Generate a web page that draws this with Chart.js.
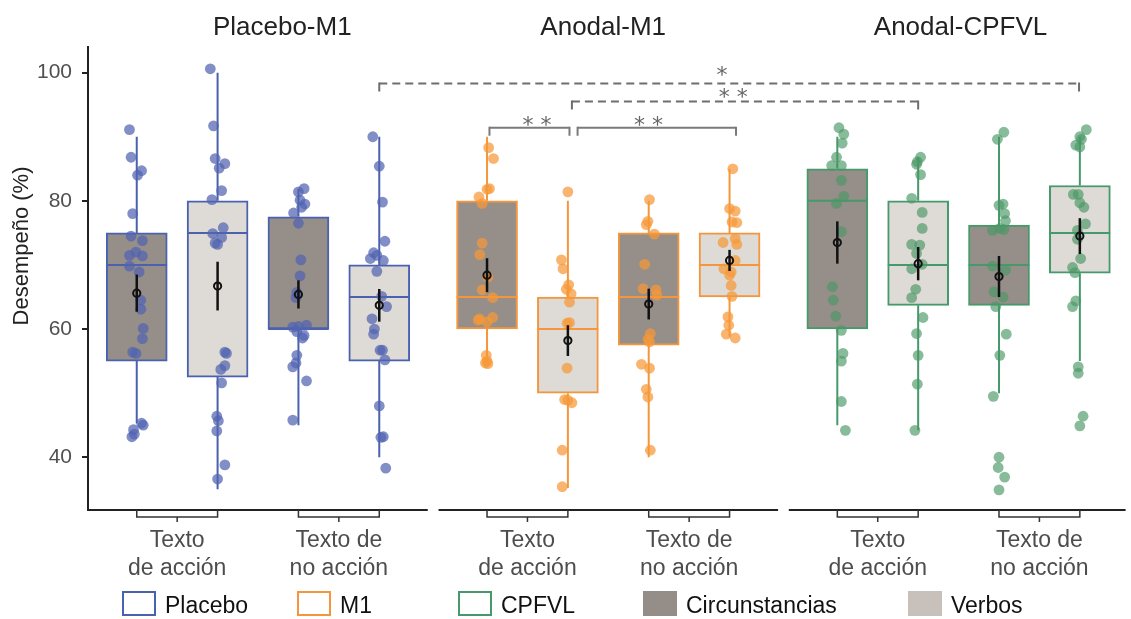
<!DOCTYPE html>
<html>
<head>
<meta charset="utf-8">
<script src="https://cdn.jsdelivr.net/npm/chart.js@4.4.1/dist/chart.umd.min.js"></script>
<style>
  html, body { margin: 0; padding: 0; background: #ffffff; }
  #wrap { width: 1131px; height: 619px; }
</style>
</head>
<body>
<div id="wrap"><canvas id="chart" width="1131" height="619"></canvas></div>
<script>
// ---- data -----------------------------------------------------------------
const panelTitles = ['Placebo-M1', 'Anodal-M1', 'Anodal-CPFVL'];
const textLabels = [['Texto', 'de acción'], ['Texto de', 'no acción']];
const stimulation = ['Placebo', 'M1', 'CPFVL'];
const wordClass = ['Circunstancias', 'Verbos'];
const yTickValues = [40, 60, 80, 100];

// one entry per box, panel by panel:
// [acción-circunstancias, acción-verbos, no acción-circunstancias, no acción-verbos]
const boxQ1       = [55, 52.5, 60, 55,     60, 50, 57.5, 65,     60, 63.7, 63.7, 68.7];
const boxMedian   = [70, 75, 60, 65,       65, 60, 65, 70,       80, 70, 70, 75];
const boxQ3       = [75, 80, 77.5, 70,     80, 65, 75, 75,       85, 80, 76.2, 82.4];
const whiskerLow  = [45.3, 35, 45, 40,     55, 35.2, 40, 58.8,   45, 44.2, 50, 55];
const whiskerHigh = [90, 100, 81.9, 90,    90, 80, 80, 85,       90, 86.8, 90, 90];
const meanScore   = [65.6, 66.7, 65.4, 63.7, 68.4, 58.2, 63.9, 70.7, 73.5, 70.2, 68.2, 74.5];
const meanError   = [2.9, 3.8, 2.2, 2.55,  2.65, 2.4, 2.4, 1.65,  3.3, 2.6, 3.2, 2.8];

// individual participant scores (%) for each box
const scores = [
  [91.1, 86.8, 84.0, 84.7, 78.0, 74.5, 73.8, 71.5, 72.0, 71.4, 69.8, 68.9, 64.5, 63.1, 60.1, 58.5, 56.4, 56.2, 45.3, 44.3, 45.0, 43.2, 43.6],
  [100.6, 91.7, 86.6, 85.1, 85.8, 81.6, 80.2, 74.9, 75.8, 74.3, 73.4, 73.2, 56.4, 56.2, 54.3, 53.7, 51.6, 46.4, 45.7, 44.1, 38.8, 36.6],
  [81.4, 81.9, 80.1, 79.5, 79.0, 78.1, 76.5, 70.8, 68.3, 64.9, 65.7, 60.3, 60.4, 60.6, 59.6, 59.0, 58.6, 55.9, 54.7, 54.1, 51.9, 45.8],
  [90.0, 85.4, 79.8, 73.7, 71.9, 71.5, 71.0, 70.7, 69.0, 65.1, 63.5, 61.6, 60.0, 59.2, 56.7, 56.7, 55.2, 48.0, 43.1, 43.2, 38.3],
  [88.3, 86.6, 81.9, 81.8, 80.6, 79.6, 73.4, 71.6, 68.1, 66.1, 64.9, 61.6, 61.8, 61.1, 61.4, 55.9, 55.0, 54.6, 54.7],
  [81.4, 70.8, 69.4, 66.9, 66.2, 65.5, 64.2, 60.9, 61.0, 53.9, 49.0, 48.9, 48.5, 41.1, 35.4],
  [80.2, 76.8, 76.3, 74.8, 70.1, 66.3, 66.1, 65.3, 59.3, 58.4, 58.0, 54.5, 53.9, 50.6, 49.4, 41.1],
  [85.0, 78.8, 78.4, 76.7, 76.6, 74.1, 73.5, 73.2, 70.7, 69.4, 68.9, 68.4, 66.8, 65.1, 61.9, 60.6, 59.2, 58.6],
  [91.4, 90.4, 89.0, 86.8, 85.5, 85.5, 83.2, 80.7, 79.6, 75.2, 66.6, 64.5, 62.0, 59.8, 56.2, 55.0, 48.7, 44.2],
  [86.8, 86.1, 85.7, 84.1, 80.4, 78.2, 75.7, 73.2, 73.1, 71.8, 70.1, 69.4, 66.2, 64.9, 61.8, 59.3, 55.9, 51.4, 44.2],
  [90.7, 89.6, 79.3, 79.5, 78.0, 76.9, 75.4, 75.7, 75.5, 69.8, 69.2, 65.8, 65.0, 63.5, 59.2, 55.9, 49.5, 40.0, 38.4, 36.9, 34.9],
  [91.1, 90.0, 89.6, 88.7, 88.4, 81.0, 81.0, 79.7, 79.0, 76.4, 75.4, 74.0, 71.0, 69.6, 68.8, 64.4, 63.5, 54.1, 53.1, 46.4, 44.9]
];

// horizontal jitter of each point, as a fraction of one box slot
const jitterX = [
  [-0.09, -0.07, 0.01, 0.06, -0.05, -0.07, 0.07, -0.09, -0.01, 0.07, -0.09, 0.03, 0.05, 0.05, 0.08, 0.07, -0.05, -0.01, 0.06, -0.04, 0.08, -0.06, -0.03],
  [-0.09, -0.05, -0.03, 0.02, 0.09, 0.05, -0.07, -0.06, 0.07, 0.05, -0.03, 0, 0.09, 0.11, 0.09, 0.04, 0.05, -0.01, 0.01, -0.01, 0.09, 0],
  [0, 0.07, 0.02, 0.08, 0.04, -0.06, 0, 0.03, 0.02, -0.03, -0.02, -0.07, 0, 0.1, -0.02, 0.07, 0.05, -0.02, -0.03, -0.07, 0.1, -0.07],
  [-0.08, 0, 0.04, 0.07, -0.07, -0.03, -0.11, 0.05, -0.03, 0.03, 0.09, -0.09, -0.06, -0.07, 0.01, 0.04, 0.07, 0, 0.02, 0.05, 0.08],
  [0.02, 0.08, 0.03, 0, -0.1, -0.06, -0.06, -0.09, 0.01, -0.06, 0.07, -0.09, 0.07, 0, -0.11, -0.01, 0, 0.01, -0.02],
  [0, -0.08, -0.06, 0.01, -0.02, 0.04, 0.02, -0.01, 0.02, -0.01, -0.04, 0, 0.05, -0.07, -0.07],
  [0.01, -0.01, -0.03, 0.07, -0.05, -0.07, 0.09, 0.1, 0.02, -0.01, 0.01, -0.09, 0.01, -0.03, -0.01, 0.02],
  [0.04, 0, 0.07, 0.03, 0.09, 0.07, -0.08, 0.09, 0.07, -0.07, 0.02, 0, 0.02, 0.03, -0.02, -0.01, -0.04, 0.07],
  [0.02, 0.08, 0.06, -0.01, -0.07, 0.05, 0.05, 0.08, -0.01, 0.05, -0.06, -0.05, -0.02, 0.05, 0.07, 0.05, 0.05, 0.1],
  [0.03, -0.01, -0.02, 0.03, -0.08, 0.05, 0.05, -0.08, 0.02, -0.02, 0.05, -0.08, -0.03, -0.08, 0.06, -0.02, 0, -0.01, -0.04],
  [0.06, -0.02, 0, 0.05, 0.07, 0.08, -0.08, 0.01, 0.06, -0.08, 0.08, -0.06, 0.05, -0.04, 0.09, 0.01, -0.07, 0, -0.01, 0.07, 0],
  [0.08, 0, 0.02, -0.05, 0, -0.08, -0.02, 0, 0.05, 0.07, -0.03, -0.03, 0.01, -0.09, -0.06, -0.05, -0.09, -0.02, -0.02, 0.04, 0]
];

// pairwise comparisons: box index at each end and the stars shown
const comparisonFrom  = [3, 5, 4, 5];
const comparisonTo    = [11, 9, 5, 7];
const comparisonStars = ['*', '* *', '* *', '* *'];

// ---- layout & style -------------------------------------------------------
const FONT = "'Liberation Sans', Arial, sans-serif";
const panelBase = [1, 5.333, 9.666];          // x of the first box in each panel
const boxWidthUnits = 0.75;
const boxPos = scores.map((_, i) => panelBase[Math.floor(i / 4)] + (i % 4));
const stimColor  = ['#4a62ae', '#f3963c', '#45996a'];
const pointColor = ['rgba(82,100,178,0.72)', 'rgba(246,152,56,0.72)', 'rgba(74,152,102,0.66)'];
const wordFill   = ['#968e89', '#dedad5'];
const wordLegendFill = ['#958d88', '#c7c0bb'];
const groupOf = i => Math.floor(i / 4);
const classOf = i => i % 2;

// comparison bracket geometry (data units / % levels)
const comparisonLevel  = [98.3, 95.5, 91.4, 91.4];
const comparisonNudge  = [[0, -0.01], [0.05, 0], [0.03, 0.02], [0.12, 0.08]];
const comparisonDashed = [true, true, false, false];
const comparisonTextX  = [8.24, 8.38, 5.95, 7.33];
const comparisonLift   = [14, 9, 8, 8];

const boxPlugin = {
  id: 'boxParts',
  beforeDatasetsDraw(chart) {
    const {ctx, scales: {x: xs, y: ys}} = chart;
    ctx.save();
    ctx.lineWidth = 2;
    boxPos.forEach((p, i) => {
      const x = xs.getPixelForValue(p);
      ctx.strokeStyle = stimColor[groupOf(i)];
      ctx.beginPath();
      ctx.moveTo(x, ys.getPixelForValue(whiskerLow[i]));
      ctx.lineTo(x, ys.getPixelForValue(boxQ1[i]));
      ctx.moveTo(x, ys.getPixelForValue(boxQ3[i]));
      ctx.lineTo(x, ys.getPixelForValue(whiskerHigh[i]));
      ctx.stroke();
    });
    ctx.restore();
  },
  afterDatasetDraw(chart, args) {
    if (args.index !== 0) return;
    const {ctx, scales: {x: xs, y: ys}} = chart;
    ctx.save();
    ctx.lineWidth = 2;
    boxPos.forEach((p, i) => {
      const x0 = xs.getPixelForValue(p - boxWidthUnits / 2);
      const x1 = xs.getPixelForValue(p + boxWidthUnits / 2);
      const y = ys.getPixelForValue(boxMedian[i]);
      ctx.strokeStyle = stimColor[groupOf(i)];
      ctx.beginPath();
      ctx.moveTo(x0, y);
      ctx.lineTo(x1, y);
      ctx.stroke();
    });
    ctx.restore();
  },
  afterDatasetsDraw(chart) {
    const {ctx, scales: {x: xs, y: ys}} = chart;
    ctx.save();
    // mean ± error
    boxPos.forEach((p, i) => {
      const x = xs.getPixelForValue(p);
      const y = ys.getPixelForValue(meanScore[i]);
      ctx.strokeStyle = '#111';
      ctx.lineWidth = 2.5;
      ctx.beginPath();
      ctx.moveTo(x, ys.getPixelForValue(meanScore[i] - meanError[i]));
      ctx.lineTo(x, ys.getPixelForValue(meanScore[i] + meanError[i]));
      ctx.stroke();
      ctx.lineWidth = 2;
      ctx.beginPath();
      ctx.arc(x, y, 3.6, 0, Math.PI * 2);
      ctx.stroke();
    });
    // significance brackets: horizontal bar (dashed or solid) and solid end tips
    comparisonFrom.forEach((a, k) => {
      const xa = xs.getPixelForValue(boxPos[a] + comparisonNudge[k][0]);
      const xb = xs.getPixelForValue(boxPos[comparisonTo[k]] + comparisonNudge[k][1]);
      const y = ys.getPixelForValue(comparisonLevel[k]);
      ctx.strokeStyle = comparisonDashed[k] ? '#6e6e6e' : '#7a7a7a';
      ctx.lineWidth = 2;
      ctx.setLineDash(comparisonDashed[k] ? [8, 5] : []);
      ctx.beginPath();
      ctx.moveTo(xa, y);
      ctx.lineTo(xb, y);
      ctx.stroke();
      ctx.setLineDash([]);
      ctx.beginPath();
      ctx.moveTo(xa, y - 1);
      ctx.lineTo(xa, y + 8);
      ctx.moveTo(xb, y - 1);
      ctx.lineTo(xb, y + 8);
      ctx.stroke();
      ctx.fillStyle = '#666';
      ctx.font = "22px 'DejaVu Sans', sans-serif";
      ctx.textAlign = 'center';
      ctx.textBaseline = 'alphabetic';
      ctx.fillText(comparisonStars[k], xs.getPixelForValue(comparisonTextX[k]), y - comparisonLift[k] + 12);
    });
    ctx.restore();
  },
  afterDraw(chart) {
    const {ctx, chartArea, scales: {x: xs}} = chart;
    const base = chartArea.bottom;
    ctx.save();
    // bottom axis, one segment per panel
    ctx.strokeStyle = '#222';
    ctx.lineWidth = 2;
    panelBase.forEach(b => {
      ctx.beginPath();
      ctx.moveTo(Math.max(xs.getPixelForValue(b - 0.6), chartArea.left - 1), base);
      ctx.lineTo(Math.min(xs.getPixelForValue(b + 3.6), chartArea.right), base);
      ctx.stroke();
    });
    // brackets joining each text-type pair, with its label
    ctx.lineWidth = 1.5;
    ctx.strokeStyle = '#333';
    for (let i = 0; i < boxPos.length; i += 2) {
      const xa = xs.getPixelForValue(boxPos[i]);
      const xb = xs.getPixelForValue(boxPos[i + 1]);
      const xm = (xa + xb) / 2;
      ctx.beginPath();
      ctx.moveTo(xa, base);
      ctx.lineTo(xa, base + 7);
      ctx.lineTo(xb, base + 7);
      ctx.lineTo(xb, base);
      ctx.moveTo(xm, base + 7);
      ctx.lineTo(xm, base + 12);
      ctx.stroke();
      const lines = textLabels[(i / 2) % 2];
      ctx.fillStyle = '#4d4d4d';
      ctx.font = '23px ' + FONT;
      ctx.textAlign = 'center';
      ctx.textBaseline = 'alphabetic';
      ctx.fillText(lines[0], xm, base + 37);
      ctx.fillText(lines[1], xm, base + 65);
    }
    // panel titles
    const titleX = [2.80, 6.77, 11.19];
    ctx.fillStyle = '#222';
    ctx.font = '26px ' + FONT;
    panelTitles.forEach((t, k) => ctx.fillText(t, xs.getPixelForValue(titleX[k]), 35));
    // y-axis title
    ctx.save();
    ctx.translate(22, 246);
    ctx.rotate(-Math.PI / 2);
    ctx.font = '22px ' + FONT;
    ctx.textBaseline = 'middle';
    ctx.fillText('Desempeño (%)', 0, 0);
    ctx.restore();
    // legend
    const legendItems = stimulation.map((s, k) => ({text: s, stroke: stimColor[k], fill: '#fff'}))
      .concat(wordClass.map((w, k) => ({text: w, stroke: wordLegendFill[k], fill: wordLegendFill[k]})));
    const legendX = [122, 297, 458, 643, 908];
    ctx.font = '23px ' + FONT;
    ctx.textAlign = 'left';
    legendItems.forEach((it, k) => {
      ctx.fillStyle = it.fill;
      ctx.fillRect(legendX[k] + 1, 592, 32, 23);
      ctx.strokeStyle = it.stroke;
      ctx.lineWidth = 2;
      ctx.strokeRect(legendX[k] + 1, 592, 32, 23);
      ctx.fillStyle = '#111';
      ctx.fillText(it.text, legendX[k] + 43, 613);
    });
    ctx.restore();
  }
};

const datasets = [{
  type: 'bar',
  data: boxPos.map((p, i) => ({x: p, y: [boxQ1[i], boxQ3[i]]})),
  backgroundColor: boxPos.map((_, i) => wordFill[classOf(i)]),
  borderColor: boxPos.map((_, i) => stimColor[groupOf(i)]),
  borderWidth: 2,
  borderSkipped: false,
  barThickness: 61,
  order: 5
}];
scores.forEach((vals, i) => {
  datasets.push({
    type: 'scatter',
    data: vals.map((v, j) => ({x: boxPos[i] + jitterX[i][j], y: v})),
    backgroundColor: pointColor[groupOf(i)],
    borderWidth: 0,
    pointRadius: 5.4,
    order: 1,
    clip: false
  });
});

new Chart(document.getElementById('chart'), {
  type: 'bar',
  data: {datasets},
  options: {
    responsive: false,
    animation: false,
    devicePixelRatio: 1,
    layout: {padding: {top: 47, bottom: 109, left: 0, right: 0}},
    plugins: {legend: {display: false}, tooltip: {enabled: false}},
    scales: {
      x: {type: 'linear', offset: false, min: 0.397, max: 13.232, display: false},
      y: {
        min: 31.77,
        max: 104,
        afterBuildTicks: s => { s.ticks = yTickValues.map(v => ({value: v})); },
        afterFit: s => { s.width = 88; },
        border: {display: true, color: '#222', width: 2},
        grid: {drawOnChartArea: false, drawTicks: true, tickLength: 6, color: '#222', lineWidth: 2},
        ticks: {color: '#505050', padding: 10, font: {family: FONT, size: 21}}
      }
    }
  },
  plugins: [boxPlugin]
});
</script>
</body>
</html>
